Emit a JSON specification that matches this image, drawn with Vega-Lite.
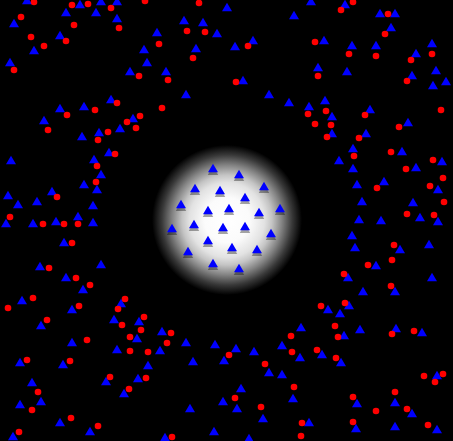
{
  "$schema": "https://vega.github.io/schema/vega-lite/v6.json",
  "description": "Red circles and blue triangles on black, with a soft white glow round the blue cluster in the middle.",
  "width": 453,
  "height": 441,
  "autosize": {"type": "fit", "contains": "padding"},
  "padding": 0,
  "background": "black",
  "config": {"view": {"stroke": null}},
  "datasets": {
    "glow": [{"x": 227, "y": 220}],
    "blue": [
      {"x": 27, "y": 0}, {"x": 80, "y": 4}, {"x": 101, "y": 1}, {"x": 117, "y": 1}, {"x": 66, "y": 12}, {"x": 96, "y": 12},
      {"x": 14, "y": 23}, {"x": 117, "y": 18}, {"x": 60, "y": 35}, {"x": 34, "y": 50}, {"x": 144, "y": 49}, {"x": 10, "y": 62},
      {"x": 147, "y": 62}, {"x": 130, "y": 71}, {"x": 111, "y": 99}, {"x": 60, "y": 108}, {"x": 84, "y": 106}, {"x": 133, "y": 118},
      {"x": 44, "y": 120}, {"x": 120, "y": 128}, {"x": 99, "y": 132}, {"x": 82, "y": 136},
      {"x": 227, "y": 7}, {"x": 294, "y": 15}, {"x": 184, "y": 20}, {"x": 203, "y": 22}, {"x": 157, "y": 32}, {"x": 217, "y": 33},
      {"x": 253, "y": 40}, {"x": 235, "y": 46}, {"x": 196, "y": 48}, {"x": 166, "y": 71}, {"x": 243, "y": 80}, {"x": 186, "y": 94},
      {"x": 269, "y": 94}, {"x": 289, "y": 102},
      {"x": 311, "y": 1}, {"x": 345, "y": 4}, {"x": 380, "y": 13}, {"x": 395, "y": 13}, {"x": 391, "y": 27}, {"x": 324, "y": 40},
      {"x": 352, "y": 45}, {"x": 376, "y": 45}, {"x": 432, "y": 43}, {"x": 416, "y": 53}, {"x": 318, "y": 67}, {"x": 347, "y": 71},
      {"x": 436, "y": 70}, {"x": 412, "y": 75}, {"x": 446, "y": 81}, {"x": 433, "y": 85}, {"x": 325, "y": 100}, {"x": 309, "y": 106},
      {"x": 370, "y": 109}, {"x": 332, "y": 116}, {"x": 408, "y": 122}, {"x": 332, "y": 133}, {"x": 366, "y": 133}, {"x": 353, "y": 148},
      {"x": 11, "y": 160}, {"x": 94, "y": 159}, {"x": 109, "y": 152}, {"x": 101, "y": 174}, {"x": 84, "y": 184}, {"x": 97, "y": 189},
      {"x": 52, "y": 191}, {"x": 8, "y": 195}, {"x": 18, "y": 204}, {"x": 37, "y": 201}, {"x": 93, "y": 205}, {"x": 78, "y": 216},
      {"x": 6, "y": 223}, {"x": 33, "y": 223}, {"x": 56, "y": 221}, {"x": 93, "y": 222}, {"x": 64, "y": 242}, {"x": 101, "y": 264},
      {"x": 40, "y": 266}, {"x": 66, "y": 277}, {"x": 83, "y": 289},
      {"x": 213, "y": 168}, {"x": 239, "y": 174}, {"x": 195, "y": 188}, {"x": 220, "y": 190}, {"x": 264, "y": 186}, {"x": 245, "y": 197},
      {"x": 181, "y": 204}, {"x": 208, "y": 210}, {"x": 229, "y": 208}, {"x": 259, "y": 212}, {"x": 280, "y": 208}, {"x": 172, "y": 228},
      {"x": 194, "y": 224}, {"x": 223, "y": 227}, {"x": 245, "y": 226}, {"x": 271, "y": 233}, {"x": 208, "y": 240}, {"x": 188, "y": 251},
      {"x": 232, "y": 247}, {"x": 257, "y": 249}, {"x": 213, "y": 263}, {"x": 239, "y": 268},
      {"x": 402, "y": 151}, {"x": 339, "y": 160}, {"x": 442, "y": 161}, {"x": 353, "y": 168}, {"x": 416, "y": 167}, {"x": 357, "y": 184},
      {"x": 384, "y": 181}, {"x": 438, "y": 189}, {"x": 362, "y": 201}, {"x": 413, "y": 202}, {"x": 359, "y": 219}, {"x": 381, "y": 220},
      {"x": 420, "y": 217}, {"x": 438, "y": 221}, {"x": 352, "y": 235}, {"x": 355, "y": 247}, {"x": 400, "y": 249}, {"x": 429, "y": 244},
      {"x": 376, "y": 265}, {"x": 348, "y": 277}, {"x": 432, "y": 277}, {"x": 363, "y": 291}, {"x": 395, "y": 291},
      {"x": 22, "y": 300}, {"x": 72, "y": 309}, {"x": 121, "y": 303}, {"x": 114, "y": 319}, {"x": 139, "y": 321}, {"x": 41, "y": 325},
      {"x": 137, "y": 338}, {"x": 72, "y": 342}, {"x": 117, "y": 349}, {"x": 20, "y": 362}, {"x": 63, "y": 364}, {"x": 148, "y": 365},
      {"x": 32, "y": 382}, {"x": 106, "y": 381}, {"x": 138, "y": 378}, {"x": 124, "y": 393}, {"x": 41, "y": 401}, {"x": 20, "y": 404},
      {"x": 60, "y": 422}, {"x": 90, "y": 431}, {"x": 13, "y": 436},
      {"x": 162, "y": 331}, {"x": 186, "y": 342}, {"x": 215, "y": 344}, {"x": 160, "y": 350}, {"x": 236, "y": 348}, {"x": 254, "y": 351},
      {"x": 282, "y": 345}, {"x": 301, "y": 327}, {"x": 193, "y": 361}, {"x": 224, "y": 360}, {"x": 300, "y": 357}, {"x": 269, "y": 372},
      {"x": 282, "y": 374}, {"x": 241, "y": 388}, {"x": 223, "y": 401}, {"x": 237, "y": 408}, {"x": 190, "y": 408}, {"x": 293, "y": 398},
      {"x": 263, "y": 418}, {"x": 214, "y": 431}, {"x": 165, "y": 437}, {"x": 249, "y": 438},
      {"x": 328, "y": 309}, {"x": 349, "y": 305}, {"x": 340, "y": 313}, {"x": 360, "y": 329}, {"x": 344, "y": 335}, {"x": 396, "y": 328},
      {"x": 422, "y": 332}, {"x": 322, "y": 354}, {"x": 341, "y": 362}, {"x": 437, "y": 375}, {"x": 357, "y": 403}, {"x": 395, "y": 402},
      {"x": 412, "y": 413}, {"x": 309, "y": 422}, {"x": 356, "y": 428}, {"x": 395, "y": 426}, {"x": 437, "y": 429}
    ],
    "red": [
      {"x": 34, "y": 2}, {"x": 72, "y": 5}, {"x": 88, "y": 4}, {"x": 111, "y": 8}, {"x": 145, "y": 1}, {"x": 21, "y": 17},
      {"x": 74, "y": 25}, {"x": 119, "y": 28}, {"x": 31, "y": 37}, {"x": 44, "y": 46}, {"x": 66, "y": 41}, {"x": 14, "y": 70},
      {"x": 139, "y": 76}, {"x": 117, "y": 103}, {"x": 95, "y": 110}, {"x": 67, "y": 115}, {"x": 140, "y": 116}, {"x": 127, "y": 122},
      {"x": 136, "y": 128}, {"x": 48, "y": 130}, {"x": 108, "y": 132}, {"x": 98, "y": 140},
      {"x": 199, "y": 3}, {"x": 187, "y": 31}, {"x": 205, "y": 32}, {"x": 159, "y": 44}, {"x": 248, "y": 46}, {"x": 193, "y": 58},
      {"x": 168, "y": 80}, {"x": 236, "y": 82}, {"x": 162, "y": 108},
      {"x": 353, "y": 2}, {"x": 341, "y": 10}, {"x": 388, "y": 14}, {"x": 385, "y": 34}, {"x": 315, "y": 42}, {"x": 349, "y": 54},
      {"x": 376, "y": 56}, {"x": 432, "y": 54}, {"x": 411, "y": 60}, {"x": 318, "y": 76}, {"x": 407, "y": 81}, {"x": 441, "y": 110},
      {"x": 308, "y": 114}, {"x": 326, "y": 111}, {"x": 365, "y": 115}, {"x": 315, "y": 124}, {"x": 331, "y": 125}, {"x": 399, "y": 127},
      {"x": 327, "y": 137}, {"x": 359, "y": 138},
      {"x": 115, "y": 154}, {"x": 97, "y": 166}, {"x": 96, "y": 182}, {"x": 57, "y": 197}, {"x": 10, "y": 217}, {"x": 43, "y": 224},
      {"x": 64, "y": 224}, {"x": 78, "y": 224}, {"x": 72, "y": 243}, {"x": 49, "y": 268}, {"x": 76, "y": 278}, {"x": 90, "y": 285},
      {"x": 354, "y": 156}, {"x": 391, "y": 152}, {"x": 433, "y": 160}, {"x": 406, "y": 169}, {"x": 443, "y": 178}, {"x": 377, "y": 188},
      {"x": 430, "y": 186}, {"x": 444, "y": 202}, {"x": 407, "y": 214}, {"x": 434, "y": 215}, {"x": 394, "y": 245}, {"x": 392, "y": 260},
      {"x": 368, "y": 265}, {"x": 344, "y": 274}, {"x": 391, "y": 286},
      {"x": 33, "y": 298}, {"x": 8, "y": 308}, {"x": 79, "y": 306}, {"x": 125, "y": 299}, {"x": 118, "y": 309}, {"x": 144, "y": 317},
      {"x": 47, "y": 320}, {"x": 122, "y": 325}, {"x": 141, "y": 330}, {"x": 130, "y": 337}, {"x": 87, "y": 340}, {"x": 130, "y": 351},
      {"x": 148, "y": 352}, {"x": 27, "y": 360}, {"x": 70, "y": 361}, {"x": 110, "y": 377}, {"x": 146, "y": 378}, {"x": 129, "y": 389},
      {"x": 38, "y": 392}, {"x": 32, "y": 410}, {"x": 71, "y": 418}, {"x": 98, "y": 426}, {"x": 19, "y": 432},
      {"x": 171, "y": 333}, {"x": 167, "y": 343}, {"x": 229, "y": 355}, {"x": 291, "y": 336}, {"x": 292, "y": 352}, {"x": 265, "y": 364},
      {"x": 294, "y": 387}, {"x": 235, "y": 398}, {"x": 261, "y": 407}, {"x": 302, "y": 423}, {"x": 301, "y": 436}, {"x": 172, "y": 437},
      {"x": 321, "y": 306}, {"x": 345, "y": 303}, {"x": 335, "y": 326}, {"x": 338, "y": 337}, {"x": 392, "y": 334}, {"x": 414, "y": 331},
      {"x": 317, "y": 350}, {"x": 336, "y": 358}, {"x": 424, "y": 376}, {"x": 443, "y": 374}, {"x": 435, "y": 382}, {"x": 353, "y": 397},
      {"x": 395, "y": 392}, {"x": 376, "y": 411}, {"x": 407, "y": 409}, {"x": 353, "y": 422}, {"x": 428, "y": 425}
    ]
  },
  "encoding": {
    "x": {"field": "x", "type": "quantitative", "axis": null, "scale": {"domain": [0, 453], "nice": false, "zero": false}},
    "y": {"field": "y", "type": "quantitative", "axis": null, "scale": {"domain": [0, 441], "nice": false, "zero": false, "reverse": true}}
  },
  "layer": [
    {
      "data": {"name": "glow"},
      "mark": {
        "type": "point",
        "shape": "circle",
        "filled": true,
        "clip": true,
        "size": 22500,
        "opacity": 1,
        "strokeWidth": 0,
        "color": {
          "gradient": "radial",
          "stops": [
            {"offset": 0, "color": "#ffffff"},
            {"offset": 0.3, "color": "#fbfbfb"},
            {"offset": 0.5, "color": "#e2e2e2"},
            {"offset": 0.6, "color": "#c4c4c4"},
            {"offset": 0.73, "color": "#848484"},
            {"offset": 0.87, "color": "#383838"},
            {"offset": 1, "color": "#000000"}
          ]
        }
      }
    },
    {
      "data": {"name": "blue"},
      "mark": {"type": "point", "shape": "triangle-up", "filled": true, "clip": true, "size": 110, "color": "#000000", "opacity": 0.35, "yOffset": 2.5, "strokeWidth": 0}
    },
    {
      "data": {"name": "blue"},
      "mark": {"type": "point", "shape": "triangle-up", "filled": true, "clip": true, "size": 100, "color": "#0000ff", "opacity": 1, "strokeWidth": 0}
    },
    {
      "data": {"name": "red"},
      "mark": {"type": "point", "shape": "circle", "filled": true, "clip": true, "size": 44, "color": "#ff0000", "opacity": 1, "strokeWidth": 0}
    }
  ]
}
